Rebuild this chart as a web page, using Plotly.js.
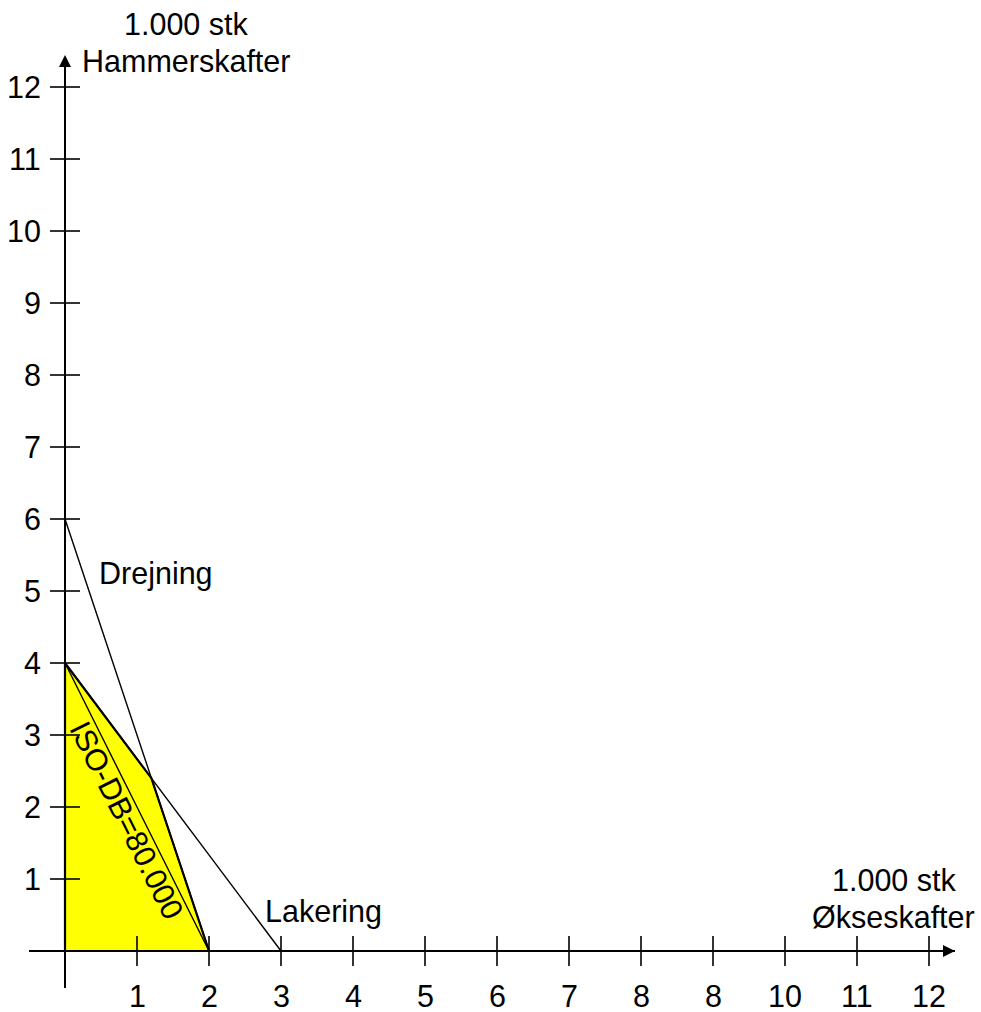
<!DOCTYPE html>
<html>
<head>
<meta charset="utf-8">
<script src="https://cdn.plot.ly/plotly-3.0.1.min.js"></script>
<style>html,body{margin:0;padding:0;background:#fff;}#chart{width:981px;height:1012px;}</style>
</head>
<body>
<div id="chart"></div>
<script>
// Data
const xTicks = [1,2,3,4,5,6,7,8,9,10,11,12];
const xTickLabels = ["1","2","3","4","5","6","7","8","8","10","11","12"];
const yTicks = [1,2,3,4,5,6,7,8,9,10,11,12];
const yTickLabels = ["1","2","3","4","5","6","7","8","9","10","11","12"];
const drejningX = [0, 2];
const drejningY = [6, 0];
const lakeringX = [0, 3];
const lakeringY = [4, 0];
const isoX = [0, 2];
const isoY = [4, 0];
const feasibleX = [0, 0, 1.2, 2, 0];
const feasibleY = [0, 4, 2.4, 0, 0];

const W = 981, H = 1012;
const ox = 65, oy = 951, ppu = 72; // pixel origin & pixels per unit
const xr = [-ox/ppu, (W-ox)/ppu];
const yr = [(oy-H)/ppu, oy/ppu];
const px = p => p/ppu; // pixel length to data units

const font = {family: "Liberation Sans, Arial, sans-serif", size: 30.5, color: "#000"};

// tick segments
const tx = [], ty = [];
xTicks.forEach(v => { tx.push(v, v, null); ty.push(-px(15), px(15), null); });
const ux = [], uy = [];
yTicks.forEach(v => { ux.push(-px(15), px(15), null); uy.push(v, v, null); });

const traces = [
  {x: feasibleX, y: feasibleY, mode: "lines", fill: "toself", fillcolor: "#FFFF00",
   line: {color: "#000", width: 2.2}, hoverinfo: "skip"},
  {x: drejningX, y: drejningY, mode: "lines", line: {color: "#000", width: 1.4}, hoverinfo: "skip"},
  {x: lakeringX, y: lakeringY, mode: "lines", line: {color: "#000", width: 1.4}, hoverinfo: "skip"},
  {x: isoX, y: isoY, mode: "lines", line: {color: "#000", width: 1.4}, hoverinfo: "skip"},
  // axes lines
  {x: [-px(36), px(890)], y: [0, 0], mode: "lines", line: {color: "#000", width: 2}, hoverinfo: "skip"},
  {x: [0, 0], y: [-px(37), px(890)], mode: "lines", line: {color: "#000", width: 2}, hoverinfo: "skip"},
  {x: tx, y: ty, mode: "lines", line: {color: "#000", width: 1.6}, hoverinfo: "skip"},
  {x: ux, y: uy, mode: "lines", line: {color: "#000", width: 1.6}, hoverinfo: "skip"}
];

const annotations = [];
xTicks.forEach((v, i) => annotations.push({x: v, y: 0, xref: "x", yref: "y", text: xTickLabels[i],
  showarrow: false, yshift: -45, xanchor: "center", yanchor: "middle", font: font}));
yTicks.forEach((v, i) => annotations.push({x: 0, y: v, xref: "x", yref: "y", text: yTickLabels[i],
  showarrow: false, xshift: -22, xanchor: "right", yanchor: "middle", font: font}));
// arrows
annotations.push({x: px(890), y: 0, ax: px(870), ay: 0, xref: "x", yref: "y", axref: "x", ayref: "y",
  text: "", showarrow: true, arrowhead: 2, arrowsize: 1.2, arrowwidth: 2, arrowcolor: "#000"});
annotations.push({x: 0, y: px(896), ax: 0, ay: px(876), xref: "x", yref: "y", axref: "x", ayref: "y",
  text: "", showarrow: true, arrowhead: 2, arrowsize: 1.2, arrowwidth: 2, arrowcolor: "#000"});
// labels
const lbl = (x, y, t, extra) => annotations.push(Object.assign({x: x, y: y, xref: "x", yref: "y", text: t,
  showarrow: false, xanchor: "center", yanchor: "middle", font: font}, extra || {}));
lbl(px(186-ox), px(oy-24), "1.000 stk");
lbl(px(186-ox), px(oy-61), "Hammerskafter");
lbl(px(894-ox), px(oy-880), "1.000 stk");
lbl(px(893-ox), px(oy-917), "Økseskafter");
lbl(px(156-ox), px(oy-573), "Drejning");
lbl(px(323-ox), px(oy-911), "Lakering");
lbl(px(127-ox), px(oy-820), "ISO-DB=80.000", {textangle: 63.43});

const layout = {
  width: W, height: H,
  margin: {l: 0, r: 0, t: 0, b: 0},
  paper_bgcolor: "#fff", plot_bgcolor: "#fff",
  showlegend: false,
  xaxis: {range: xr, visible: false, fixedrange: true},
  yaxis: {range: yr, visible: false, fixedrange: true},
  annotations: annotations
};

Plotly.newPlot("chart", traces, layout, {staticPlot: true, displayModeBar: false});
</script>
</body>
</html>
